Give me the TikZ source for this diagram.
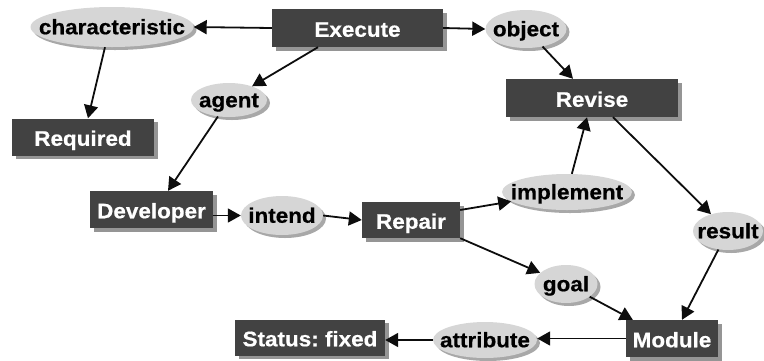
\documentclass[tikz,border=0pt]{standalone}
\usepackage{fontspec}
\newfontfamily\labfont{Liberation Sans}[FakeStretch=1.07, FakeBold=0.6]
\usetikzlibrary{shapes.geometric,shadows,arrows.meta}

\definecolor{boxfill}{HTML}{424242}
\definecolor{ovalfill}{HTML}{D6D6D6}
\definecolor{boxshade}{HTML}{959595}
\definecolor{ovalshade}{HTML}{A8A8A8}
\definecolor{linkcol}{HTML}{0D0D0D}

\tikzset{
  labeltext/.style={font=\labfont\bfseries\fontsize{21}{24}\selectfont},
  concept/.style={rectangle, fill=boxfill, text=white, inner sep=0pt, labeltext,
    text height=17.5pt, text depth=0pt,
    drop shadow={shadow xshift=3.5pt, shadow yshift=-3.5pt, fill=boxshade, opacity=1}},
  relation/.style={ellipse, fill=ovalfill, text=black, inner sep=0pt, labeltext,
    text height=14.5pt, text depth=0pt,
    drop shadow={shadow xshift=3pt, shadow yshift=-3pt, fill=ovalshade, opacity=1}},
  link/.style={draw=linkcol, line width=1.8pt, -{Triangle[length=13pt,width=14pt]}},
}

\begin{document}
\begin{tikzpicture}[x=1pt, y=-1pt]
  \useasboundingbox (0,0) rectangle (764,360);

  % concepts (dark boxes)
  \node[concept, minimum width=171pt, minimum height=38pt] (exe)  at (357.5,28)  {Execute};
  \node[concept, minimum width=142pt, minimum height=37pt] (req)  at (83,137)    {Required};
  \node[concept, minimum width=172pt, minimum height=38pt] (rev)  at (592,98)    {Revise};
  \node[concept, minimum width=123pt, minimum height=37pt] (dev)  at (151.5,209.5) {Developer};
  \node[concept, minimum width=98pt,  minimum height=36pt] (rep)  at (411,220)   {Repair};
  \node[concept, minimum width=92pt,  minimum height=37pt] (mod)  at (672,338.5) {Module};
  \node[concept, minimum width=150pt, minimum height=36pt] (stat) at (310,337.5) {Status:\ fixed};

  % relations (light ovals)
  \node[relation, minimum width=163pt, minimum height=40pt] (char) at (112,27)  {\makebox[0pt]{characteristic}};
  \node[relation, minimum width=81pt,  minimum height=38pt] (obj)  at (526,29)  {\makebox[0pt]{object}};
  \node[relation, minimum width=76pt,  minimum height=34pt] (agent) at (229,100) {\makebox[0pt]{agent}};
  \node[relation, minimum width=82pt,  minimum height=39pt] (int)  at (282,215.5) {\makebox[0pt]{intend}};
  \node[relation, minimum width=130pt, minimum height=36pt] (impl) at (567,192) {\makebox[0pt]{implement}};
  \node[relation, minimum width=70pt,  minimum height=38pt] (res)  at (728,231) {\makebox[0pt]{result}};
  \node[relation, minimum width=63pt,  minimum height=38pt] (goal) at (566,284) {\makebox[0pt]{goal}};
  \node[relation, minimum width=104pt, minimum height=36pt] (attr) at (485,340) {\makebox[0pt]{attribute}};

  % links
  \draw[link] (exe.west) -- (char.east);
  \draw[link] (exe.east) -- (obj.west);
  \draw[link] ([xshift=-7pt]char.south) -- ([xshift=5pt]req.north);
  \draw[link] ([xshift=-39.5pt]exe.south) -- (agent);
  \draw[link] (agent) -- ([xshift=16.5pt]dev.north);
  \draw[link] (dev.east |- int.west) -- (int.west);
  \draw[link] (int.east) -- (rep.west);
  \draw[link] ([yshift=10pt]rep.east) -- (impl);
  \draw[link] (impl) -- ([xshift=-5pt]rev.south);
  \draw[link] (obj) -- ([xshift=-19pt]rev.north);
  \draw[link] ([xshift=21pt]rev.south) -- (res);
  \draw[link] (res) -- ([xshift=10pt]mod.north);
  \draw[link] (rep.south east) -- (goal);
  \draw[link] (goal) -- ([xshift=7pt]mod.north west);
  \draw[link] (mod.west) -- (mod.west -| attr.east);
  \draw[link] (attr.west) -- (attr.west -| stat.east);
\end{tikzpicture}
\end{document}
